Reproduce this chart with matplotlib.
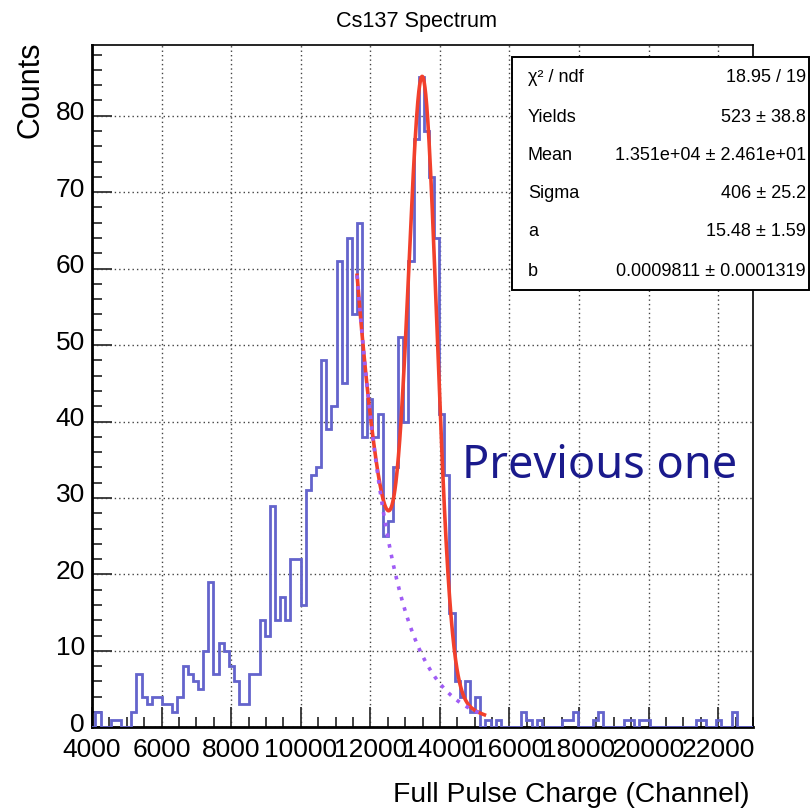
import numpy as np
import matplotlib
matplotlib.use("Agg")
import matplotlib.pyplot as plt
import matplotlib.transforms as mtransforms
from matplotlib.patches import Rectangle
from matplotlib.ticker import MultipleLocator

plt.rcParams['font.family'] = ['Liberation Sans', 'DejaVu Sans']

# ---------------- data ----------------
bin_start = 3950.0
bin_width = 147.5
n_bins = 130
counts = np.zeros(n_bins)
# bins (bin index -> counts)
low_idx = list(range(0, 80))
low_vals = [0, 2, 0, 0, 1, 1, 0, 0, 2, 7,
            4, 3, 4, 4, 3, 3, 2, 4, 8, 7,
            6, 5, 10, 19, 7, 11, 10, 8, 6, 3,
            3, 7, 7, 14, 12, 29, 14, 17, 14, 22,
            22, 16, 31, 33, 34, 48, 39, 42, 61, 45,
            64, 54, 66, 38, 43, 38, 41, 25, 27, 34,
            51, 40, 61, 77, 85, 78, 72, 64, 41, 33,
            15, 6, 4, 6, 2, 4, 0, 1, 0, 1]
tail_idx = [84, 85, 87, 92, 93, 94, 98, 99, 104, 105, 107, 108, 118, 119, 122, 125]
tail_vals = [2, 1, 1, 1, 1, 2, 1, 2, 1, 1, 1, 1, 1, 1, 1, 2]

# fit parameters (from stats box)
yields, mean, sigma = 523.0, 1.351e4, 406.0
a_par, b_par = 15.48, 0.0009811
fit_lo, fit_hi = 11620.0, 15280.0

stats_labels = ["\u03c7\u00b2 / ndf", "Yields", "Mean", "Sigma", "a", "b"]
stats_values = ["18.95 / 19", "523 \u00b1 38.8", "1.351e+04 \u00b1 2.461e+01",
                "406 \u00b1 25.2", "15.48 \u00b1 1.59", "0.0009811 \u00b1 0.0001319"]

x_ticks = [4000, 6000, 8000, 10000, 12000, 14000, 16000, 18000, 20000, 22000]
y_ticks = [0, 10, 20, 30, 40, 50, 60, 70, 80]

for i, v in zip(low_idx, low_vals):
    counts[i] = v
for i, v in zip(tail_idx, tail_vals):
    counts[i] = v
edges = bin_start + bin_width * np.arange(n_bins + 1)

# ---------------- figure ----------------
W, H = 812, 811
fig = plt.figure(figsize=(W / 100, H / 100), dpi=100)
L, R, T, B = 92, 753, 45, 727.3
ax = fig.add_axes([L / W, 1 - B / H, (R - L) / W, (B - T) / H])
ax.set_xlim(4000, 23000)
ax.set_ylim(0, 89.25)

ax.grid(True, which='major', color='#444444', linestyle=(0, (1, 2.2)), linewidth=1.0)
ax.set_axisbelow(True)

ax.stairs(counts, edges, color='#6464cc', linewidth=2.0, baseline=0, zorder=3)

xf = np.linspace(fit_lo, fit_hi, 500)
bkg = np.exp(a_par - b_par * xf)
gaus = yields * bin_width / (np.sqrt(2 * np.pi) * sigma) * np.exp(-0.5 * ((xf - mean) / sigma) ** 2)
ax.plot(xf, gaus + bkg, color='#f2402c', linewidth=2.6, zorder=4)
ax.plot(xf, bkg, color='#a05cf5', linewidth=2.6, linestyle=(0, (1, 2)), zorder=5)

ax.set_xticks(x_ticks)
ax.set_yticks(y_ticks)
ax.xaxis.set_minor_locator(MultipleLocator(500))
ax.yaxis.set_minor_locator(MultipleLocator(2))
ax.tick_params(which='both', direction='in', top=False, right=False, color='#333333',
               width=1.3, labelsize=19)
ax.tick_params(which='major', length=14.4)
ax.tick_params(which='minor', length=7.2)
ax.tick_params(axis='x', pad=8)
ax.tick_params(axis='y', pad=5)
shift_up = mtransforms.ScaledTranslation(0, 5 / 100, fig.dpi_scale_trans)
for lbl in ax.get_yticklabels():
    lbl.set_transform(lbl.get_transform() + shift_up)
for s in ax.spines.values():
    s.set_linewidth(1.2)
    s.set_color('black')
ax.spines['left'].set_linewidth(2)
ax.spines['bottom'].set_linewidth(2)

# title & axis labels
fig.text(416 / W, 1 - 22 / H, "Cs137 Spectrum", ha='center', va='center', fontsize=15.6)
fig.text(30 / W, 1 - 41 / H, "Counts", rotation=90, ha='center', va='top', fontsize=22)
fig.text(750 / W, 1 - 795 / H, "Full Pulse Charge (Channel)", ha='right', va='center', fontsize=20.3)

# stats box
bx0, by0, bx1, by1 = 512, 57, 809, 290
fig.patches.append(Rectangle((bx0 / W, 1 - by1 / H), (bx1 - bx0) / W, (by1 - by0) / H,
                             transform=fig.transFigure, facecolor='white', edgecolor='black',
                             linewidth=1.4, zorder=10))
row_y = [78, 118, 156, 194, 232, 272]
for lab, val, yy in zip(stats_labels, stats_values, row_y):
    fig.text(528 / W, 1 - yy / H, lab, ha='left', va='center', fontsize=13, zorder=11)
    fig.text(806 / W, 1 - yy / H, val, ha='right', va='center', fontsize=13, zorder=11)

# annotation
fig.text(462 / W, 1 - 466 / H, "Previous one", ha='left', va='center', fontsize=32.5,
         color='#1a1a8c', family=['Noto Sans', 'DejaVu Sans'])

fig.savefig("out.png", dpi=100)
